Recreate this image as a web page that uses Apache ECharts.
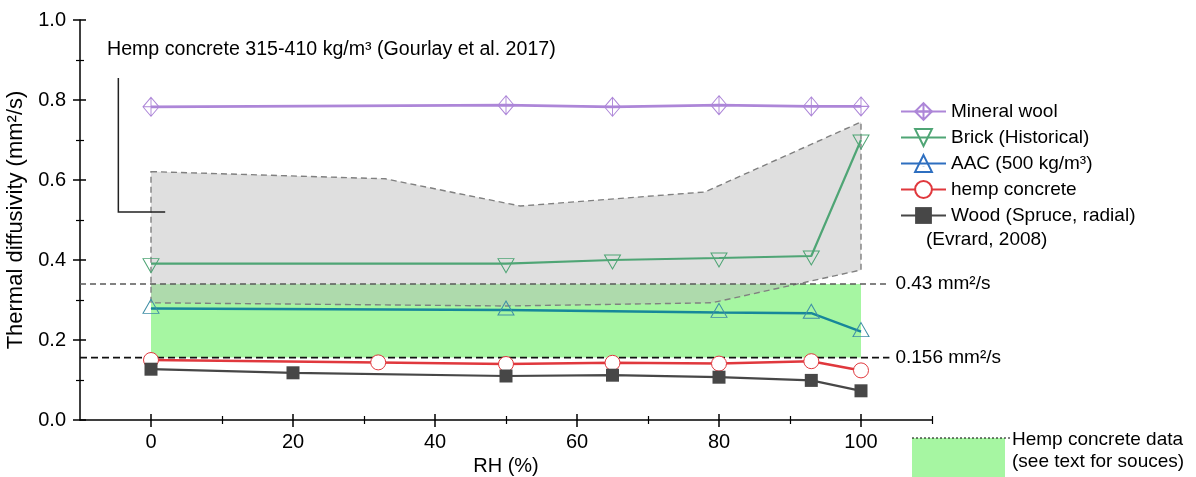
<!DOCTYPE html>
<html>
<head>
<meta charset="utf-8">
<script src="https://cdn.jsdelivr.net/npm/echarts@6/dist/echarts.min.js"></script>
<style>html,body{margin:0;padding:0;background:#fff}#c{width:1196px;height:477px}</style>
</head>
<body>
<div id="c"></div>
<script>
// ---------- data ----------
const rhMineral = [0, 50, 65, 80, 93, 100];
const mineralWool = [0.783, 0.787, 0.783, 0.787, 0.784, 0.784];
const rhBrick = [0, 50, 65, 80, 93, 100];
const brick = [0.391, 0.391, 0.400, 0.405, 0.410, 0.700];
const rhAAC = [0, 50, 80, 93, 100];
const aac = [0.279, 0.275, 0.269, 0.267, 0.221];
const rhHemp = [0, 32, 50, 65, 80, 93, 100];
const hemp = [0.150, 0.144, 0.140, 0.143, 0.141, 0.147, 0.124];
const rhWood = [0, 20, 50, 65, 80, 93, 100];
const wood = [0.127, 0.118, 0.110, 0.112, 0.107, 0.099, 0.073];

// Gourlay et al. 2017 envelope (hemp concrete 315-410 kg/m3)
const gourlayRH = [0, 33, 52, 78, 100, 100, 79, 50, 0];
const gourlayVal = [0.621, 0.603, 0.535, 0.570, 0.745, 0.375, 0.293, 0.285, 0.293];

// hemp concrete data band
const bandRH = [0, 100];
const bandVal = [0.156, 0.34];

// reference lines
const refValues = [0.34, 0.156];
const refLabels = ['0.43 mm²/s', '0.156 mm²/s'];
const refRH = [-10, 104];

// annotation bracket
const bracketRH = [-4.6, -4.6, 2];
const bracketVal = [0.855, 0.52, 0.52];

const xMajor = [0, 20, 40, 60, 80, 100];
const xMinor = [10, 30, 50, 70, 90, 110];

const seriesNames = ['Mineral wool', 'Brick (Historical)', 'AAC (500 kg/m³)', 'hemp concrete', 'Wood (Spruce, radial)'];

// ---------- helpers ----------
const FONT = 'Arial, "Liberation Sans", sans-serif';
const zip = (xs, ys) => xs.map((x, i) => [x, ys[i]]);
const diamondCross = 'path://M0,-10 L8,0 L0,10 L-8,0 Z M0,-10 L0,10 M-8,0 L8,0';
const triDown = 'path://M-8,-5 L8,-5 L0,9 Z';
const triUp = 'path://M0,-9 L8,5 L-8,5 Z M0,0.4 L0.01,0.6';

const chart = echarts.init(document.getElementById('c'), null, {renderer: 'canvas'});

const xBase = {type: 'value', min: -10, max: 110, position: 'bottom', splitLine: {show: false}};
const yBase = {type: 'value', min: 0, max: 1, interval: 0.2, position: 'left', splitLine: {show: false}};

const option = {
  animation: false,
  textStyle: {fontFamily: FONT},
  grid: {left: 80, right: 264, top: 20, bottom: 57, containLabel: false, outerBoundsMode: 'none'},
  xAxis: [
    Object.assign({}, xBase, {
      name: 'RH (%)', nameLocation: 'middle', nameGap: 35,
      nameTextStyle: {fontSize: 20, color: '#000', fontFamily: FONT},
      axisLine: {show: true, onZero: false, lineStyle: {color: '#000', width: 1.5}},
      axisTick: {show: true, customValues: xMajor, length: 7, lineStyle: {color: '#000', width: 1.5}},
      axisLabel: {show: true, customValues: xMajor, fontSize: 20, color: '#000', margin: 12, fontFamily: FONT}
    }),
    Object.assign({}, xBase, {
      axisLine: {show: false, onZero: false},
      axisTick: {show: true, inside: true, customValues: xMajor, length: 6, lineStyle: {color: '#000', width: 1.5}},
      axisLabel: {show: false}
    }),
    Object.assign({}, xBase, {
      axisLine: {show: false, onZero: false},
      axisTick: {show: true, customValues: xMinor, length: 4, lineStyle: {color: '#000', width: 1.2}},
      axisLabel: {show: false}
    }),
    Object.assign({}, xBase, {
      axisLine: {show: false, onZero: false},
      axisTick: {show: true, inside: true, customValues: xMinor, length: 4, lineStyle: {color: '#000', width: 1.2}},
      axisLabel: {show: false}
    })
  ],
  yAxis: [
    Object.assign({}, yBase, {
      name: 'Thermal diffusivity (mm²/s)', nameLocation: 'middle', nameGap: 43,
      nameTextStyle: {fontSize: 22, color: '#000', fontFamily: FONT},
      axisLine: {show: true, onZero: false, lineStyle: {color: '#000', width: 1.5}},
      axisTick: {show: true, length: 7, lineStyle: {color: '#000', width: 1.5}},
      minorTick: {show: true, splitNumber: 2, length: 4, lineStyle: {color: '#000', width: 1.2}},
      axisLabel: {fontSize: 20, color: '#000', margin: 14, fontFamily: FONT, formatter: v => v.toFixed(1)}
    }),
    Object.assign({}, yBase, {
      axisLine: {show: false, onZero: false},
      axisTick: {show: true, inside: true, length: 6, lineStyle: {color: '#000', width: 1.5}},
      minorTick: {show: true, splitNumber: 2, length: 4, lineStyle: {color: '#000', width: 1.2}},
      axisLabel: {show: false}
    })
  ],
  legend: {
    orient: 'vertical', left: 900, top: 101, padding: 0,
    itemWidth: 45, itemHeight: 21, itemGap: 5,
    textStyle: {fontSize: 19, color: '#000', fontFamily: FONT, lineHeight: 21, padding: [0, 0, 0, 0]},
    data: [
      {name: seriesNames[0]},
      {name: seriesNames[1]},
      {name: seriesNames[2], lineStyle: {color: '#2e6fc0'}, itemStyle: {borderColor: '#2e6fc0'}},
      {name: seriesNames[3]},
      {name: seriesNames[4]}
    ]
  },
  graphic: [
    {type: 'text', left: 107, top: 40, style: {text: 'Hemp concrete 315-410 kg/m³ (Gourlay et al. 2017)', fontSize: 19.6, fill: '#000', fontFamily: FONT}},
    {type: 'text', left: 926, top: 230, style: {text: '(Evrard, 2008)', fontSize: 19, fill: '#000', fontFamily: FONT}},
    {type: 'rect', shape: {x: 912, y: 438, width: 93, height: 40}, style: {fill: '#a6f6a2'}},
    {type: 'line', shape: {x1: 912, y1: 438, x2: 1011, y2: 438}, style: {stroke: '#000', lineWidth: 1, lineDash: [2, 2]}},
    {type: 'text', left: 1012, top: 430, style: {text: 'Hemp concrete data', fontSize: 19, fill: '#000', fontFamily: FONT}},
    {type: 'text', left: 1012, top: 452, style: {text: '(see text for souces)', fontSize: 19, fill: '#000', fontFamily: FONT}}
  ],
  series: [
    {
      type: 'custom', name: 'band', z: 1, silent: true, clip: false,
      data: [[bandRH[0], bandVal[0]]],
      renderItem: (params, api) => {
        const p1 = api.coord([bandRH[0], bandVal[1]]);
        const p2 = api.coord([bandRH[1], bandVal[0]]);
        return {type: 'rect', shape: {x: p1[0], y: p1[1], width: p2[0] - p1[0], height: p2[1] - p1[1]}, style: {fill: '#a6f6a2'}};
      }
    },
    {
      type: 'custom', name: 'gourlay', z: 2, silent: true, clip: false,
      data: [[gourlayRH[0], gourlayVal[0]]],
      renderItem: (params, api) => {
        const pts = gourlayRH.map((r, i) => api.coord([r, gourlayVal[i]]));
        return {type: 'polygon', shape: {points: pts}, style: {fill: 'rgba(185,185,185,0.45)', stroke: '#808080', lineWidth: 1.4, lineDash: [6, 4]}};
      }
    },
    {
      type: 'custom', name: 'refs', z: 3, silent: true, clip: false,
      data: refValues.map((v, i) => [i, v]),
      renderItem: (params, api) => {
        const i = params.dataIndex;
        const v = refValues[i];
        const a = api.coord([refRH[0], v]);
        const b = api.coord([refRH[1], v]);
        return {type: 'group', children: [
          {type: 'line', shape: {x1: a[0], y1: a[1], x2: b[0], y2: b[1]},
           style: i === 0 ? {stroke: '#5a5a5a', lineWidth: 1.4, lineDash: [6, 4]} : {stroke: '#111', lineWidth: 1.8, lineDash: [7, 4]}},
          {type: 'text', style: {x: b[0] + 6, y: b[1], text: refLabels[i], fontSize: 19, fontFamily: FONT, fill: '#000', verticalAlign: 'middle', align: 'left'}}
        ]};
      }
    },
    {
      type: 'custom', name: 'bracket', z: 3, silent: true, clip: false,
      data: [[bracketRH[0], bracketVal[0]]],
      renderItem: (params, api) => {
        const pts = bracketRH.map((r, i) => api.coord([r, bracketVal[i]]));
        return {type: 'polyline', shape: {points: pts}, style: {stroke: '#222', lineWidth: 1.5, fill: 'none'}};
      }
    },
    {
      name: seriesNames[0], type: 'line', z: 5, data: zip(rhMineral, mineralWool),
      symbol: diamondCross, symbolSize: [16, 19],
      lineStyle: {color: '#ad86d8', width: 2.8},
      itemStyle: {color: 'rgba(255,255,255,0)', borderColor: '#ad86d8', borderWidth: 1}
    },
    {
      name: seriesNames[1], type: 'line', z: 5, data: zip(rhBrick, brick),
      symbol: triDown, symbolSize: [16, 14], symbolOffset: [0, 2],
      lineStyle: {color: '#4fa575', width: 2.2},
      itemStyle: {color: 'rgba(255,255,255,0)', borderColor: '#4fa575', borderWidth: 1}
    },
    {
      name: seriesNames[2], type: 'line', z: 5, data: zip(rhAAC, aac),
      symbol: triUp, symbolSize: [16, 14], symbolOffset: [0, -2],
      lineStyle: {color: '#17879a', width: 2.5},
      itemStyle: {color: 'rgba(255,255,255,0)', borderColor: '#3f8fa6', borderWidth: 1}
    },
    {
      name: seriesNames[3], type: 'line', z: 5, data: zip(rhHemp, hemp),
      symbol: 'circle', symbolSize: 15,
      lineStyle: {color: '#e0383d', width: 2.5},
      itemStyle: {color: '#ffffff', borderColor: '#e0383d', borderWidth: 1}
    },
    {
      name: seriesNames[4], type: 'line', z: 5, data: zip(rhWood, wood),
      symbol: 'rect', symbolSize: 13,
      lineStyle: {color: '#474747', width: 2.2},
      itemStyle: {color: '#474747', borderColor: '#474747', borderWidth: 0}
    }
  ]
};
chart.setOption(option);
</script>
</body>
</html>
